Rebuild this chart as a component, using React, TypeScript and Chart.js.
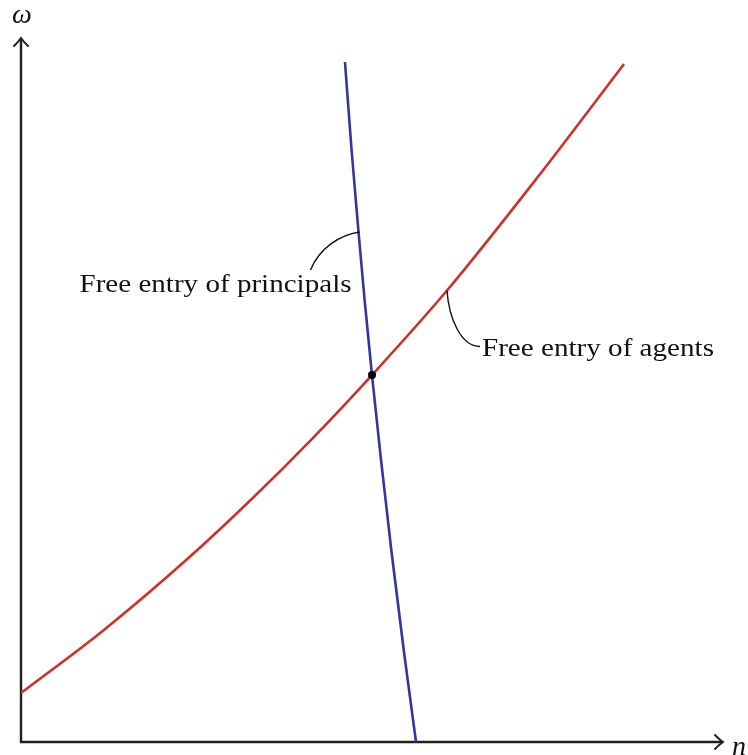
import React, { useEffect, useRef } from "react";
import { Chart, registerables } from "chart.js";

Chart.register(...registerables);

// Free entry of agents (red, upward sloping)
const agentsN = [0, 11.68, 23.65, 33.05, 41.6, 50.0, 60.68, 73.5, 85.9];
const agentsW = [6.96, 15.81, 25.95, 34.69, 43.21, 52.13, 64.13, 80.11, 96.31];

// Free entry of principals (blue, steep downward)
const principalsN = [46.15, 47.09, 48.08, 48.95, 50.0, 51.24, 52.75, 54.52, 56.27];
const principalsW = [96.59, 84.09, 72.44, 62.78, 52.13, 40.48, 27.27, 13.07, 0];

// Equilibrium point
const equilibriumN = [50.0];
const equilibriumW = [52.13];

const labelPrincipals = "Free entry of principals";
const labelAgents = "Free entry of agents";
const axisLabelY = "ω";
const axisLabelX = "n";

// index of data point where each label leader attaches
const principalsAnchorIndex = 2;
const agentsAnchorIndex = 6;

const AXIS_COLOR = "#231f20";
const RED = "#cf3029";
const BLUE = "#34359d";
const SERIF = "'Liberation Serif', 'DejaVu Serif', serif";

function zip(xs: number[], ys: number[]) {
  return xs.map((x, i) => ({ x, y: ys[i] }));
}

function drawFittedText(
  ctx: CanvasRenderingContext2D,
  text: string,
  x: number,
  y: number,
  targetWidth: number,
  align: "left" | "right"
) {
  ctx.save();
  ctx.font = `26px ${SERIF}`;
  ctx.textBaseline = "alphabetic";
  ctx.textAlign = "left";
  const w = ctx.measureText(text).width;
  const s = targetWidth / w;
  const left = align === "left" ? x : x - targetWidth;
  ctx.translate(left, y);
  ctx.scale(s, 1);
  ctx.fillStyle = "#111";
  ctx.fillText(text, 0, 0);
  ctx.restore();
}

const overlayPlugin = {
  id: "econOverlay",
  beforeDatasetsDraw(chart: any) {
    const ctx: CanvasRenderingContext2D = chart.ctx;
    const xs = chart.scales.x;
    const ys = chart.scales.y;
    const x0 = xs.getPixelForValue(0);
    const y0 = ys.getPixelForValue(0);
    const xEnd = xs.getPixelForValue(100);
    const yEnd = ys.getPixelForValue(100);
    ctx.save();
    ctx.strokeStyle = AXIS_COLOR;
    ctx.lineWidth = 2.4;
    ctx.lineCap = "butt";
    ctx.beginPath();
    ctx.moveTo(x0, y0 + 1.2);
    ctx.lineTo(x0, yEnd + 1);
    ctx.moveTo(x0 - 1.2, y0);
    ctx.lineTo(xEnd - 1, y0);
    ctx.stroke();
    // arrow heads (LaTeX "to" style)
    ctx.lineWidth = 2;
    ctx.lineCap = "round";
    ctx.beginPath();
    ctx.moveTo(x0 - 7, yEnd + 8);
    ctx.quadraticCurveTo(x0 - 2, yEnd + 3, x0, yEnd);
    ctx.quadraticCurveTo(x0 + 2, yEnd + 3, x0 + 7, yEnd + 8);
    ctx.moveTo(xEnd - 8, y0 - 7);
    ctx.quadraticCurveTo(xEnd - 3, y0 - 2, xEnd, y0);
    ctx.quadraticCurveTo(xEnd - 3, y0 + 2, xEnd - 8, y0 + 7);
    ctx.stroke();
    // axis labels
    ctx.fillStyle = "#111";
    ctx.font = `italic 28px ${SERIF}`;
    ctx.textAlign = "center";
    ctx.textBaseline = "alphabetic";
    ctx.fillText(axisLabelY, x0 + 1, yEnd - 15);
    ctx.textAlign = "left";
    ctx.fillText(axisLabelX, xEnd + 9, y0 + 13);
    ctx.restore();
  },
  afterDraw(chart: any) {
    const ctx: CanvasRenderingContext2D = chart.ctx;
    const xs = chart.scales.x;
    const ys = chart.scales.y;
    const ax = xs.getPixelForValue(principalsN[principalsAnchorIndex]) + 1;
    const ay = ys.getPixelForValue(principalsW[principalsAnchorIndex]);
    const bx = xs.getPixelForValue(agentsN[agentsAnchorIndex]);
    const by = ys.getPixelForValue(agentsW[agentsAnchorIndex]);
    ctx.save();
    ctx.strokeStyle = "#111";
    ctx.lineWidth = 1.4;
    ctx.beginPath();
    ctx.moveTo(ax, ay);
    ctx.bezierCurveTo(ax - 20, ay + 3, ax - 40, ay + 16, ax - 49, ay + 38);
    ctx.moveTo(bx, by);
    ctx.bezierCurveTo(bx + 2, by + 28, bx + 14, by + 56, bx + 33, by + 56);
    ctx.stroke();
    ctx.restore();
    drawFittedText(ctx, labelPrincipals, ax - 8, ay + 60, 272, "right");
    drawFittedText(ctx, labelAgents, bx + 35, by + 65, 232, "left");
  },
};

export default function App() {
  const ref = useRef<HTMLCanvasElement | null>(null);

  useEffect(() => {
    if (!ref.current) return;
    const chart = new Chart(ref.current, {
      type: "scatter",
      data: {
        datasets: [
          {
            label: "Equilibrium",
            data: zip(equilibriumN, equilibriumW),
            showLine: false,
            pointRadius: 4,
            pointBackgroundColor: "#000",
            pointBorderWidth: 0,
          },
          {
            label: labelPrincipals,
            data: zip(principalsN, principalsW),
            showLine: true,
            borderColor: BLUE,
            borderWidth: 2.6,
            pointRadius: 0,
            cubicInterpolationMode: "monotone",
          },
          {
            label: labelAgents,
            data: zip(agentsN, agentsW),
            showLine: true,
            borderColor: RED,
            borderWidth: 2.6,
            pointRadius: 0,
            cubicInterpolationMode: "monotone",
          },
        ],
      },
      options: {
        animation: false,
        responsive: false,
        devicePixelRatio: 1,
        layout: { padding: { left: 21, right: 25, top: 38, bottom: 13 } },
        scales: {
          x: { type: "linear", min: 0, max: 100, display: false },
          y: { type: "linear", min: 0, max: 100, display: false },
        },
        plugins: {
          legend: { display: false },
          tooltip: { enabled: false },
        },
      },
      plugins: [overlayPlugin],
    });
    return () => chart.destroy();
  }, []);

  return (
    <div style={{ position: "absolute", left: 0, top: 0, width: 748, height: 755, background: "#fff" }}>
      <canvas ref={ref} width={748} height={755} />
    </div>
  );
}
